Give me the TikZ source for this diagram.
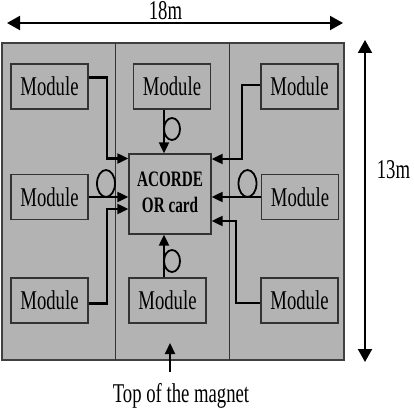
\documentclass[tikz,border=0pt]{standalone}
\usepackage{fontspec}
\setmainfont{Liberation Serif}
\usepackage{graphicx}
\usetikzlibrary{arrows.meta}
\definecolor{panelgray}{HTML}{B3B3B3}
\newcommand{\tallfont}[1]{\scalebox{1}[1.45]{#1}}
\tikzset{
  modbox/.style  = {rectangle, draw=black!80, fill=panelgray, line width=1.4pt,
                    minimum width=77pt, minimum height=45pt, inner sep=0pt,
                    font=\fontsize{18.7}{20}\selectfont},
  cardbox/.style = {modbox, minimum width=82pt, minimum height=80pt,
                    font=\fontsize{15.2}{18}\selectfont\bfseries},
  lbl/.style     = {inner sep=0pt, font=\fontsize{18.7}{20}\selectfont},
  ar/.style      = {-{Triangle[length=11pt,width=10pt]}, line width=2.2pt},
  dim/.style     = {{Triangle[length=13pt,width=14pt]}-{Triangle[length=13pt,width=14pt]},
                    line width=2pt},
  coil/.style    = {line width=1.8pt}
}
\begin{document}
\begin{tikzpicture}[x=1pt,y=-1pt]
    \useasboundingbox (0,0) rectangle (414,414);
    % magnet cross-section and its three sectors
    \draw[fill=panelgray, draw=black!75, line width=1.3pt] (2,43) rectangle (344,360);
    \draw[black!80, line width=1pt] (115,43) -- (115,360) (229,43) -- (229,360);
    % modules and the OR card
    \node[modbox] (mtl) at (49.5,86.5)  {\tallfont{Module}};
    \node[modbox] (mtm) at (172,86.5)   {\tallfont{Module}};
    \node[modbox] (mtr) at (299.5,86.5) {\tallfont{Module}};
    \node[modbox] (mml) at (49.5,197)   {\tallfont{Module}};
    \node[modbox] (mmr) at (300,197)    {\tallfont{Module}};
    \node[modbox] (mbl) at (49.5,300.5) {\tallfont{Module}};
    \node[modbox] (mbm) at (167.5,300.5){\tallfont{Module}};
    \node[modbox] (mbr) at (299.5,300.5){\tallfont{Module}};
    \node[cardbox] (card) at (170,194)
      {\tallfont{\begin{tabular}{@{}c@{}}ACORDE\\OR card\end{tabular}}};
    % cables
    \draw[ar] ([yshift=9pt]mtl.east) -- ++(18,0) |- ([yshift=35.5pt]card.west);
    \draw[ar] (mml.east) -- (mml.east -| card.west);
    \draw[ar] ([yshift=-3pt]mbl.east) -- ++(18,0) |- ([yshift=-15pt]card.west);
    \draw[ar] ([yshift=1.5pt]mtr.west) -- ++(-18,0) |- ([yshift=35pt]card.east);
    \draw[ar] (mmr.west) -- (mmr.west -| card.east);
    \draw[ar] ([yshift=-2.5pt]mbr.west) -- ++(-24,0) |- ([yshift=-27pt]card.east);
    \draw[ar] ([xshift=-8pt]mtm.south) -- ([xshift=-6pt]card.north);
    \draw[ar] ([xshift=-3.5pt]mbm.north) -- ([xshift=-6pt]card.south);
    % cable loops
    \draw[coil] (106,183.5)   ellipse [x radius=9pt, y radius=13.5pt];
    \draw[coil] (247.5,183.5) ellipse [x radius=9pt, y radius=13.5pt];
    \draw[coil] (172,129)     ellipse [x radius=8pt, y radius=11pt];
    \draw[coil] (172,261)     ellipse [x radius=8pt, y radius=11pt];
    % dimensions
    \coordinate (wl) at (7,23);
    \coordinate (wr) at (343,23);
    \draw[dim] (wl) -- (wr);
    \node[lbl] (wlabel) at (165.5,11) {\tallfont{18m}};
    \coordinate (ht) at (365,40);
    \coordinate (hb) at (365,362);
    \draw[dim] (ht) -- (hb);
    \node[lbl] (hlabel) at (393.5,170) {\tallfont{13m}};
    % top of the magnet
    \node[lbl] (magnet) at (181,395.4) {\tallfont{Top of the magnet}};
    \coordinate (mtop) at (170,343);
    \path (magnet.north -| mtop) ++(0,-11) coordinate (mtail);
    \draw[ar] (mtail) -- (mtop);
\end{tikzpicture}
\end{document}
